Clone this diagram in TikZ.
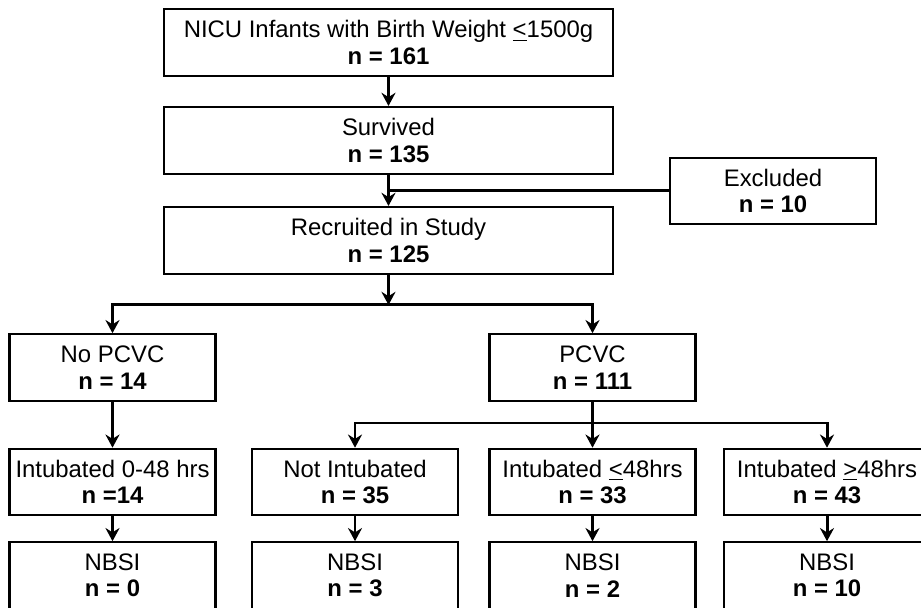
\documentclass[tikz,border=0pt]{standalone}
\usepackage{fontspec}
\setmainfont{Liberation Sans}
\usetikzlibrary{arrows.meta,positioning}

\begin{document}
\begin{tikzpicture}[
  box/.style={draw, line width=1.2pt, minimum width=4.12cm, minimum height=1.33cm,
              align=center, inner sep=1pt, font=\fontsize{13.6}{15}\selectfont},
  wide/.style={box, minimum width=8.98cm, minimum height=1.34cm},
  arr/.style={-{Stealth[length=7.5pt, width=8pt, inset=2.5pt]}, line width=1.7pt},
  lin/.style={line width=1.7pt}
]
  \useasboundingbox (0,0) rectangle (18.42,12.16);
  % main line
  \node[wide] (top)  at (7.77,11.31) {NICU Infants with Birth Weight \underline{<}1500g\\\textbf{n = 161}};
  \node[wide] (surv) at (7.77,9.35)  {Survived\\\textbf{n = 135}};
  \node[wide] (recr) at (7.77,7.35)  {Recruited in Study\\\textbf{n = 125}};
  \node[box]  (excl) at (15.46,8.34) {Excluded\\\textbf{n = 10}};
  % catheter groups
  \node[box] (nopcvc) at (2.25,4.81)  {No PCVC\\\textbf{n = 14}};
  \node[box] (pcvc)   at (11.85,4.81) {PCVC\\\textbf{n = 111}};
  % intubation groups
  \node[box] (intzero) at (2.25,2.52)  {Intubated 0-48 hrs\\\textbf{n =14}};
  \node[box] (notint)  at (7.10,2.52)  {Not Intubated\\\textbf{n = 35}};
  \node[box] (intle)   at (11.85,2.52) {Intubated \underline{<}48hrs\\\textbf{n = 33}};
  \node[box] (intge)   at (16.54,2.52) {Intubated \underline{>}48hrs\\\textbf{n = 43}};
  % outcomes
  \node[box] (nbsia) at (2.25,0.65)  {NBSI\\\textbf{n = 0}};
  \node[box] (nbsib) at (7.10,0.65)  {NBSI\\\textbf{n = 3}};
  \node[box] (nbsic) at (11.85,0.65) {NBSI\\\textbf{n = 2}};
  \node[box] (nbsid) at (16.54,0.65) {NBSI\\\textbf{n = 10}};

  \coordinate (splitA) at (7.77,6.06);
  \coordinate (splitB) at (11.85,3.70);

  \draw[arr] (top) -- (surv);
  \draw[arr] (surv) -- (recr);
  \draw[lin] (excl.west) -- (excl.west -| surv.south);
  \draw[arr] (recr) -- (splitA);
  \draw[arr] (splitA) -| (nopcvc);
  \draw[arr] (splitA) -| (pcvc);
  \draw[arr] (pcvc) -- (intle);
  \draw[arr] (splitB) -| (notint);
  \draw[arr] (splitB) -| (intge);
  \draw[arr] (nopcvc) -- (intzero);
  \draw[arr] (intzero) -- (nbsia);
  \draw[arr] (notint) -- (nbsib);
  \draw[arr] (intle) -- (nbsic);
  \draw[arr] (intge) -- (nbsid);
\end{tikzpicture}
\end{document}
